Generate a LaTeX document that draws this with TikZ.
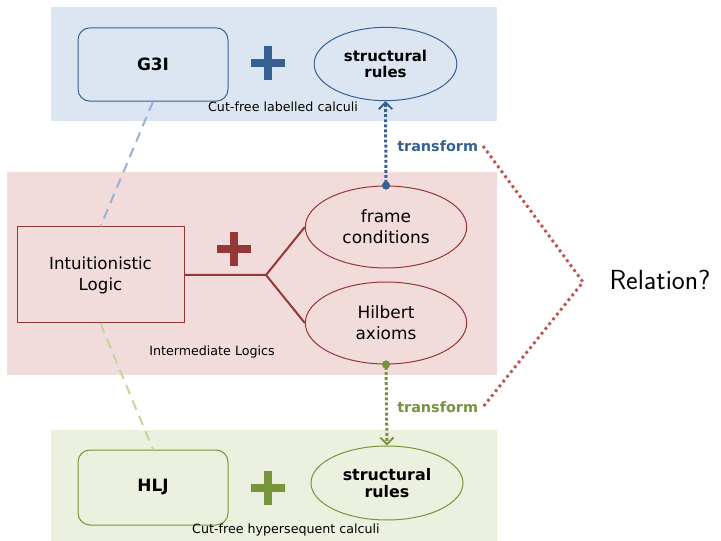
\documentclass[tikz,border=0pt]{standalone}
\usepackage{fontspec}
\setmainfont{DejaVu Sans}
\usetikzlibrary{shapes.geometric,arrows.meta}
\definecolor{bandblue}{HTML}{DCE6F2}
\definecolor{bandred}{HTML}{F2DCDB}
\definecolor{bandgreen}{HTML}{EBF1DE}
\definecolor{darkblue}{HTML}{376092}
\definecolor{darkred}{HTML}{953735}
\definecolor{darkgreen}{HTML}{77933C}
\definecolor{paleblue}{HTML}{95B3D7}
\definecolor{palegreen}{HTML}{C3D69B}
\definecolor{relred}{HTML}{C0504D}

\tikzset{
  plussign/.pic={\draw[line width=5.3pt] (-17,0) -- (17,0) (0,-17) -- (0,17);}
}

\begin{document}
\begin{tikzpicture}[x=0.75pt,y=-0.75pt,
  calcbox/.style={draw=#1, rounded corners=9pt, line width=0.75pt,
    minimum width=112.5pt, minimum height=55pt,
    font=\fontsize{12.7}{15}\selectfont\bfseries},
  rulesell/.style={ellipse, draw=#1, line width=0.75pt, inner sep=0pt, align=center},
  logicell/.style={ellipse, draw=darkred, line width=0.75pt, minimum width=121pt,
    minimum height=61.5pt, inner sep=0pt, align=center,
    font=\fontsize{12.7}{15.8}\selectfont},
  bandlabel/.style={font=\fontsize{9.5}{11}\selectfont, inner sep=0pt},
  linkdash/.style={draw=#1, line width=1.5pt, dash pattern=on 7.5pt off 5pt},
  transdot/.style={draw=#1, line width=2.25pt, dash pattern=on 2.2pt off 1.6pt,
    shorten <=-3pt,
    {Circle[length=6pt]}-{Straight Barb[length=5pt,width=10pt,line width=1.4pt]}},
  translabel/.style={text=#1, font=\fontsize{10.8}{12}\selectfont\bfseries,
    inner sep=0pt, anchor=west},
]
\useasboundingbox (0,0) rectangle (721,541);

% background bands
\fill[bandblue] (51,7) rectangle (497,121);
\fill[bandred] (7,172) rectangle (497,375);
\fill[bandgreen] (51,430) rectangle (497,541);

% labelled calculi
\node[calcbox=darkblue] (g3i) at (153,64.5) {G3I};
\pic[darkblue] at (268,63) {plussign};
\node[rulesell=darkblue, minimum width=107pt, minimum height=55pt,
  font=\fontsize{11.2}{12}\selectfont\bfseries] (srtop) at (385.5,64) {structural\\rules};
\node[bandlabel] (lbltop) at (283,107) {Cut-free labelled calculi};

% intermediate logics
\node[draw=darkred, line width=0.75pt, minimum width=125.25pt, minimum height=72pt,
  align=center, font=\fontsize{12.5}{15.8}\selectfont] (il) at (100.5,275) {Intuitionistic\\Logic};
\node[logicell] (fc) at (386,227) {frame\\conditions};
\node[logicell] (ha) at (386,323) {Hilbert\\axioms};
\pic[darkred] at (234,249) {plussign};
\coordinate (fork) at (266,275);
\draw[darkred, line width=1.5pt] (il.east) -- (fork) -- (fc.west) (fork) -- (ha.west);
\node[bandlabel] (lblmid) at (212,352) {Intermediate Logics};

% hypersequent calculi
\node[calcbox=darkgreen, minimum height=56.25pt] (hlj) at (153,487.5) {HLJ};
\pic[darkgreen] at (268,488) {plussign};
\node[rulesell=darkgreen, minimum width=114pt, minimum height=55.5pt,
  font=\fontsize{11.9}{12.8}\selectfont\bfseries] (srbot) at (387,483) {structural\\rules};
\node[bandlabel] (lblbot) at (286,530) {Cut-free hypersequent calculi};

% links between the layers
\draw[linkdash=paleblue] (g3i.south) -- (il.north);
\draw[linkdash=palegreen] (il.south) -- (hlj.north);

% transformations
\draw[transdot=darkblue] (fc.north) -- (srtop.south);
\node[translabel=darkblue] (trtop) at (397,146) {transform};
\draw[transdot=darkgreen] (ha.south) -- (srbot.north);
\node[translabel=darkgreen] (trbot) at (397,407) {transform};

% the open relation
\coordinate (apex) at (583,282);
\draw[relred, line width=2.2pt, dash pattern=on 2pt off 2.6pt]
  ([xshift=3.5pt]trtop.east) -- (apex) -- ([xshift=3.5pt]trbot.east);
\node[font=\sffamily\fontsize{20.7}{24}\selectfont, inner sep=0pt] (rel) at (660,280) {Relation?};
\end{tikzpicture}
\end{document}
